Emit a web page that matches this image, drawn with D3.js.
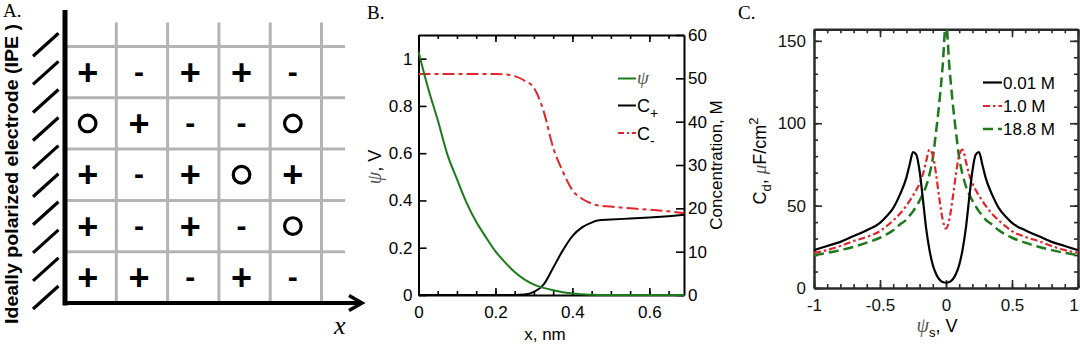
<!DOCTYPE html>
<html><head><meta charset="utf-8">
<script src="https://cdn.jsdelivr.net/npm/d3@7"></script>
<style>
body{margin:0;background:#fff;}
svg{display:block;}
</style></head><body>
<svg id="chart" width="1080" height="345"></svg>
<script>
// ---------------- DATA ----------------
// Panel A: lattice occupancy (rows top -> bottom)
const latticeRows = [
  ["+","-","+","+","-"],
  ["O","+","-","-","O"],
  ["+","-","+","O","+"],
  ["+","-","+","-","O"],
  ["+","+","-","+","-"]
];
const hatchIndex = [0,1,2,3,4,5,6,7,8,9];
const electrodeLabel = "Ideally polarized electrode (IPE )";

// Panel B
const bX      = [0,0.025,0.05,0.075,0.1,0.125,0.15,0.175,0.2,0.225,0.25,0.275,0.3,0.325,0.35,0.375,0.4,0.425,0.45,0.465,0.5,0.55,0.6,0.65,0.69];
const bPsi    = [1.03,0.875,0.74,0.595,0.49,0.39,0.31,0.245,0.185,0.138,0.097,0.066,0.044,0.03,0.02,0.012,0.006,0.003,0.001,0,0,0,0,0,0];
const bCplus  = [0,0,0,0,0,0,0,0,0,0,0,0.1,0.7,2.4,6.3,10.3,13.6,15.6,16.7,17.2,17.4,17.65,17.9,18.2,18.5];
const bCminus = [51,51,51,51,51,51,51,51,51,50.9,50.5,49.5,47.8,42.5,34,28.5,24.2,22.2,21.1,20.7,20.4,20.0,19.7,19.3,18.9];
const bXTicks = [0,0.2,0.4,0.6];
const bYTicks = [0,0.2,0.4,0.6,0.8,1];
const bY2Ticks = [0,10,20,30,40,50,60];

// Panel C
const cX = [-1,-0.9,-0.8,-0.7,-0.6,-0.5,-0.45,-0.4,-0.35,-0.3,-0.275,-0.25,-0.225,-0.2,-0.175,-0.15,-0.125,-0.1,-0.075,-0.05,-0.025,
            0,
            0.025,0.05,0.075,0.1,0.125,0.15,0.175,0.2,0.225,0.25,0.275,0.3,0.35,0.4,0.45,0.5,0.6,0.7,0.8,0.9,1];
const c001 = [23,25.5,28,31.5,35,39.5,43.5,48.5,56.5,67,75,82.5,81,71,54,36,23,14,8.5,5.2,3.6,
              3.2,
              3.6,5.2,8.5,14,23,36,54,71,81,82.5,75,67,56.5,48.5,43.5,39.5,35,31.5,28,25.5,23];
const c10  = [21.3,23,25.5,28.5,31,34.5,37.5,41,45,50,53,56,59.5,63.5,69,77,84,80.5,69,54,41.5,
              36,
              41.5,54,69,80.5,84,77,69,63.5,59.5,56,53,50,45,41,37.5,34.5,31,28.5,25.5,23,21.3];
const c188 = [20,21.3,23,25,27.5,30.5,32.5,35,38.5,41.5,44,46.5,49.5,53,57,62,69,79,95,113,135,
              162,
              135,113,95,79,69,62,57,53,49.5,46.5,44,41.5,38.5,35,32.5,30.5,27.5,25,23,21.3,20];
const cXTicks = [-1,-0.5,0,0.5,1];
const cYTicks = [0,50,100,150];
const cLegend = ["0.01 M","1.0 M","18.8 M"];

// ---------------- STYLE ----------------
const SANS = "'Liberation Sans', Arial, Helvetica, sans-serif";
const SERIF = "'Liberation Serif', 'Times New Roman', serif";
const GREEN = "#1c7a1c", RED = "#e0262b", GRID = "#b4b4b4";

const svg = d3.select("#chart");

// panel letters
[["A.",3,17],["B.",367,19],["C.",738,19]].forEach(([t,x,y]) =>
  svg.append("text").attr("x",x).attr("y",y).attr("font-family",SERIF).attr("font-size",19).text(t));

// ================= PANEL A =================
const gA = svg.append("g");
const aX = d3.scaleLinear().domain([0,5]).range([65,321.5]);
const aY = d3.scaleLinear().domain([0,5]).range([303,46.5]);

gA.selectAll("line.v").data([1,2,3,4,5]).join("line")
  .attr("x1",d=>aX(d)).attr("x2",d=>aX(d)).attr("y1",aY(5.47)).attr("y2",aY(0))
  .attr("stroke",GRID).attr("stroke-width",3);
gA.selectAll("line.h").data([1,2,3,4,5]).join("line")
  .attr("y1",d=>aY(d)).attr("y2",d=>aY(d)).attr("x1",aX(0)).attr("x2",aX(5.46))
  .attr("stroke",GRID).attr("stroke-width",3);

gA.append("line").attr("x1",aX(0)).attr("x2",aX(0)).attr("y1",10).attr("y2",aY(0)+2.5)
  .attr("stroke","#000").attr("stroke-width",5);
gA.append("line").attr("x1",aX(0)-2).attr("x2",362).attr("y1",aY(0)).attr("y2",aY(0))
  .attr("stroke","#000").attr("stroke-width",4);
gA.append("path").attr("d",`M349,295.5 L362,${aY(0)} L349,310.5`).attr("fill","none")
  .attr("stroke","#000").attr("stroke-width",3.5).attr("stroke-linejoin","miter");

const hY = d3.scaleLinear().domain([0,9]).range([33.3,286]);
gA.selectAll("line.hatch").data(hatchIndex).join("line")
  .attr("x1",33).attr("y1",d=>hY(d)+23).attr("x2",58.5).attr("y2",d=>hY(d))
  .attr("stroke","#000").attr("stroke-width",3.2);

gA.append("text").attr("transform","translate(18,174) rotate(-90)")
  .attr("text-anchor","middle").attr("font-family",SANS).attr("font-weight","bold")
  .attr("font-size",18).attr("textLength",300).attr("lengthAdjust","spacingAndGlyphs")
  .text(electrodeLabel);

gA.append("text").attr("x",334).attr("y",334).attr("font-family",SERIF)
  .attr("font-style","italic").attr("font-size",26).text("x");

const cells = [];
latticeRows.forEach((row,r)=>row.forEach((s,c)=>cells.push({r,c,s})));
cells.forEach(d=>{
  const cx0 = aX(d.c+0.5)-3, cy0 = aY(4-d.r+0.5);
  if (d.s==="O") {
    gA.append("circle").attr("cx",cx0).attr("cy",cy0).attr("r",8.3)
      .attr("fill","none").attr("stroke","#000").attr("stroke-width",3.2);
  } else if (d.s==="+") {
    gA.append("text").attr("x",cx0).attr("y",cy0).attr("text-anchor","middle")
      .attr("dominant-baseline","central").attr("font-family",SANS)
      .attr("font-weight",600).attr("font-size",36).text(d.s);
  } else {
    gA.append("text").attr("x",cx0).attr("y",cy0-1).attr("text-anchor","middle")
      .attr("dominant-baseline","central").attr("font-family",SANS)
      .attr("font-weight","bold").attr("font-size",30).text(d.s);
  }
});

// ================= PANEL B =================
const gB = svg.append("g");
const bx = d3.scaleLinear().domain([0,0.69]).range([418.5,684]);
const byL = d3.scaleLinear().domain([0,1.1]).range([295,35]);
const byR = d3.scaleLinear().domain([0,60]).range([295,35]);
const bMinorX = d3.range(0,0.69,0.05);

function styleAxis(g, fs){
  g.attr("font-family",SANS).attr("font-size",fs);
  g.selectAll("path.domain").attr("stroke","#000").attr("stroke-width",2);
  g.selectAll(".tick line").attr("stroke","#000").attr("stroke-width",1.6);
  g.selectAll(".tick text").attr("fill","#000");
}
const fmtB = d=> d3.format("~g")(d);

gB.append("g").attr("transform","translate(0,295)")
  .call(d3.axisBottom(bx).tickValues(bMinorX).tickSize(-4).tickFormat(""))
  .call(g=>g.select(".domain").remove()).call(g=>styleAxis(g,17));
gB.append("g").attr("transform","translate(0,35)")
  .call(d3.axisTop(bx).tickValues(bMinorX).tickSize(-4).tickFormat(""))
  .call(g=>g.select(".domain").remove()).call(g=>styleAxis(g,17));
gB.append("g").attr("transform","translate(0,295)")
  .call(d3.axisBottom(bx).tickValues(bXTicks).tickSizeInner(-7).tickSizeOuter(0).tickPadding(11).tickFormat(fmtB))
  .call(g=>styleAxis(g,17));
gB.append("g").attr("transform","translate(0,35)")
  .call(d3.axisTop(bx).tickValues(bXTicks).tickSizeInner(-7).tickSizeOuter(0).tickFormat(""))
  .call(g=>styleAxis(g,17));
gB.append("g").attr("transform","translate(418.5,0)")
  .call(d3.axisLeft(byL).tickValues(bYTicks).tickSizeInner(-8).tickSizeOuter(0).tickPadding(6).tickFormat(fmtB))
  .call(g=>styleAxis(g,17));
gB.append("g").attr("transform","translate(684,0)")
  .call(d3.axisRight(byR).tickValues(bY2Ticks).tickSizeInner(-8).tickSizeOuter(0).tickPadding(4))
  .call(g=>styleAxis(g,17));

const lineB = (yScale, vals) => d3.line().x((d,i)=>bx(bX[i])).y(d=>yScale(d)).curve(d3.curveMonotoneX)(vals);
gB.append("path").attr("d",lineB(byR,bCminus)).attr("fill","none").attr("stroke",RED)
  .attr("stroke-width",2).attr("stroke-dasharray","12,4,4,4");
gB.append("path").attr("d",lineB(byR,bCplus)).attr("fill","none").attr("stroke","#000").attr("stroke-width",2);
gB.append("path").attr("d",lineB(byL,bPsi)).attr("fill","none").attr("stroke",GREEN).attr("stroke-width",2);

gB.append("text").attr("transform","translate(381,167) rotate(-90)").attr("text-anchor","middle")
  .attr("font-family",SANS).attr("font-size",18)
  .call(t=>{t.append("tspan").attr("font-family",SERIF).attr("font-style","italic").attr("fill","#555").attr("font-size",20).text("ψ");
            t.append("tspan").text(", V");});
gB.append("text").attr("transform","translate(722,165) rotate(-90)").attr("text-anchor","middle")
  .attr("font-family",SANS).attr("font-size",17).text("Concentration, M");
gB.append("text").attr("x",545).attr("y",340).attr("text-anchor","middle")
  .attr("font-family",SANS).attr("font-size",17).text("x, nm");

const legB = [
  {y:78.5, color:GREEN, dash:null},
  {y:105.5, color:"#000", dash:null},
  {y:133, color:RED, dash:"6,3,2,3"}
];
legB.forEach(d=>gB.append("line").attr("x1",618).attr("x2",636).attr("y1",d.y).attr("y2",d.y)
  .attr("stroke",d.color).attr("stroke-width",2).attr("stroke-dasharray",d.dash));
gB.append("text").attr("x",637).attr("y",84).attr("font-family",SERIF).attr("font-style","italic")
  .attr("font-size",19).attr("fill","#555").text("ψ");
gB.append("text").attr("x",637).attr("y",112).attr("font-family",SANS).attr("font-size",18)
  .call(t=>{t.append("tspan").text("C"); t.append("tspan").attr("dy",6).attr("font-size",14).text("+");});
gB.append("text").attr("x",637).attr("y",140).attr("font-family",SANS).attr("font-size",18)
  .call(t=>{t.append("tspan").text("C"); t.append("tspan").attr("dy",6).attr("font-size",14).text("-");});

// ================= PANEL C =================
const gC = svg.append("g");
const cx = d3.scaleLinear().domain([-1,1]).range([814,1078]);
const cy = d3.scaleLinear().domain([0,157]).range([288,29.3]);
const cMinorX = d3.range(-1,1.0001,0.1);
const cMinorY = d3.range(0,157,10);
const fmtC = d=>String(d);
function styleC(g){
  g.attr("font-family",SANS).attr("font-size",17);
  g.selectAll("path.domain").attr("stroke","#2a2a2a").attr("stroke-width",2.5);
  g.selectAll(".tick line").attr("stroke","#2a2a2a").attr("stroke-width",1.6);
  g.selectAll(".tick text").attr("fill","#111");
}
gC.append("g").attr("transform","translate(0,288)")
  .call(d3.axisBottom(cx).tickValues(cMinorX).tickSize(-4).tickFormat("")).call(g=>g.select(".domain").remove()).call(styleC);
gC.append("g").attr("transform","translate(0,29.3)")
  .call(d3.axisTop(cx).tickValues(cMinorX).tickSize(-4).tickFormat("")).call(g=>g.select(".domain").remove()).call(styleC);
gC.append("g").attr("transform","translate(814,0)")
  .call(d3.axisLeft(cy).tickValues(cMinorY).tickSize(-4).tickFormat("")).call(g=>g.select(".domain").remove()).call(styleC);
gC.append("g").attr("transform","translate(1078,0)")
  .call(d3.axisRight(cy).tickValues(cMinorY).tickSize(-4).tickFormat("")).call(g=>g.select(".domain").remove()).call(styleC);
gC.append("g").attr("transform","translate(0,288)")
  .call(d3.axisBottom(cx).tickValues(cXTicks).tickSizeInner(-8).tickSizeOuter(0).tickPadding(11).tickFormat(fmtC))
  .call(styleC)
  .call(g=>g.selectAll(".tick text").filter(d=>d===1).attr("dx",-4.5));
gC.append("g").attr("transform","translate(0,29.3)")
  .call(d3.axisTop(cx).tickValues(cXTicks).tickSizeInner(-8).tickSizeOuter(0).tickFormat("")).call(styleC);
gC.append("g").attr("transform","translate(814,0)")
  .call(d3.axisLeft(cy).tickValues(cYTicks).tickSizeInner(-8).tickSizeOuter(0).tickPadding(8).tickFormat(fmtC)).call(styleC);
gC.append("g").attr("transform","translate(1078,0)")
  .call(d3.axisRight(cy).tickValues(cYTicks).tickSizeInner(-8).tickSizeOuter(0).tickFormat("")).call(styleC);

svg.append("clipPath").attr("id","clipC").append("rect")
  .attr("x",814).attr("y",29.3).attr("width",264).attr("height",288-29.3);
const lineC = vals => d3.line().x((d,i)=>cx(cX[i])).y(d=>cy(d)).curve(d3.curveMonotoneX)(vals);
const seriesC = [
  {vals:c188, color:GREEN, dash:"10,5", w:2.5},
  {vals:c10,  color:RED,   dash:"7,3,2.5,3", w:2.2},
  {vals:c001, color:"#000",dash:null, w:2.2}
];
seriesC.forEach(s=>gC.append("path").attr("clip-path","url(#clipC)").attr("d",lineC(s.vals))
  .attr("fill","none").attr("stroke",s.color).attr("stroke-width",s.w).attr("stroke-dasharray",s.dash));

const legYs = [82.5,106,129];
const legSeries = [seriesC[2],seriesC[1],seriesC[0]];
cLegend.forEach((lab,i)=>{
  const s = legSeries[i];
  gC.append("line").attr("x1",983).attr("x2",1002).attr("y1",legYs[i]).attr("y2",legYs[i])
    .attr("stroke",s.color).attr("stroke-width",s.w).attr("stroke-dasharray",s.dash);
  gC.append("text").attr("x",1003).attr("y",legYs[i]+6).attr("font-family",SANS).attr("font-size",17).text(lab);
});

gC.append("text").attr("transform","translate(766,161) rotate(-90)").attr("text-anchor","middle")
  .attr("font-family",SANS).attr("font-size",18)
  .call(t=>{t.append("tspan").text("C");
            t.append("tspan").attr("dy",5).attr("font-size",13).text("d");
            t.append("tspan").attr("dy",-5).text(", ");
            t.append("tspan").attr("font-family",SERIF).attr("font-style","italic").attr("fill","#555").attr("font-size",19).text("μ");
            t.append("tspan").text("F/cm");
            t.append("tspan").attr("dy",-8).attr("font-size",13).text("2");});
gC.append("text").attr("x",937).attr("y",332).attr("text-anchor","middle")
  .attr("font-family",SANS).attr("font-size",18)
  .call(t=>{t.append("tspan").attr("font-family",SERIF).attr("font-style","italic").attr("fill","#555").attr("font-size",20).text("ψ");
            t.append("tspan").attr("dy",5).attr("font-size",13).text("s");
            t.append("tspan").attr("dy",-5).text(", V");});
</script>
</body></html>
